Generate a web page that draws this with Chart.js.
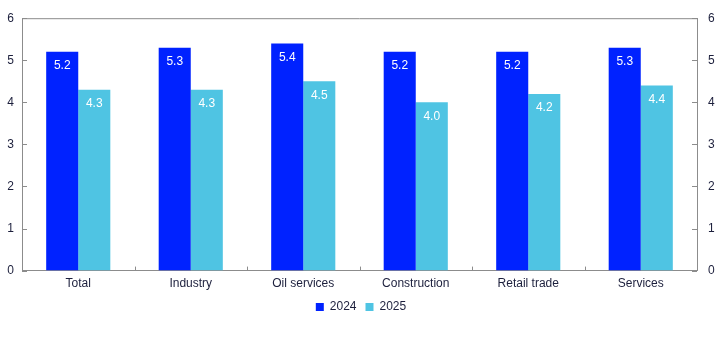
<!DOCTYPE html>
<html>
<head>
<meta charset="utf-8">
<script src="https://cdn.jsdelivr.net/npm/chart.js@4.4.1/dist/chart.umd.min.js"></script>
<style>
  html, body { margin: 0; padding: 0; background: #fff; }
  #wrap { width: 722px; height: 361px; }
</style>
</head>
<body>
<div id="wrap"><canvas id="grafica" width="722" height="361"></canvas></div>
<script>
const categorias = ['Total', 'Industry', 'Oil services', 'Construction', 'Retail trade', 'Services'];
const valores2024 = [5.2, 5.3, 5.4, 5.2, 5.2, 5.3];
const valores2025 = [4.3, 4.3, 4.5, 4.0, 4.2, 4.4];
const ticksY = [0, 1, 2, 3, 4, 5, 6];

const colorTexto = '#1c1f3c';
const colorEje = '#8c8c8c';

// etiquetas dentro de las barras y marcas de los ejes hacia dentro
const pluginExtras = {
    id: 'extras',
    afterDatasetsDraw(chart) {
        const ctx = chart.ctx;
        const area = chart.chartArea;
        ctx.save();
        ctx.font = '12px "Liberation Sans", Arial, sans-serif';
        ctx.fillStyle = '#ffffff';
        ctx.textAlign = 'center';
        ctx.textBaseline = 'middle';
        chart.data.datasets.forEach((ds, i) => {
            chart.getDatasetMeta(i).data.forEach((bar, j) => {
                ctx.fillText(ds.data[j].toFixed(1), bar.x, bar.y + 14);
            });
        });

        ctx.strokeStyle = colorEje;
        ctx.lineWidth = 1;
        ctx.beginPath();
        ctx.moveTo(area.left, area.top + 0.5);
        ctx.lineTo(area.right, area.top + 0.5);
        const y = chart.scales.y;
        ticksY.forEach(v => {
            const py = Math.round(y.getPixelForValue(v)) + 0.5;
            ctx.moveTo(area.left, py);
            ctx.lineTo(area.left + 5, py);
            ctx.moveTo(area.right, py);
            ctx.lineTo(area.right - 5, py);
        });
        const x = chart.scales.x;
        for (let k = 1; k < categorias.length; k++) {
            const px = Math.round((x.getPixelForValue(k - 1) + x.getPixelForValue(k)) / 2) + 0.5;
            ctx.moveTo(px, area.bottom);
            ctx.lineTo(px, area.bottom - 4);
        }
        ctx.stroke();
        ctx.restore();
    }
};

const fuente = { size: 12, family: '"Liberation Sans", Arial' };

const config = {
    type: 'bar',
    data: {
        labels: categorias,
        datasets: [
            { label: '2024', data: valores2024, backgroundColor: '#0022ff', yAxisID: 'y' },
            { label: '2025', data: valores2025, backgroundColor: '#4fc4e3', yAxisID: 'y' }
        ]
    },
    options: {
        responsive: false,
        animation: false,
        datasets: { bar: { barPercentage: 1, categoryPercentage: 0.57 } },
        layout: { padding: { left: 0, right: 0, top: 11, bottom: 38 } },
        scales: {
            x: {
                afterFit: s => { s.height -= 5; },
                grid: { display: false, drawTicks: false },
                border: { color: colorEje },
                ticks: { color: colorTexto, font: fuente, padding: 6 }
            },
            y: {
                position: 'left',
                min: 0, max: 6,
                afterFit: s => { s.width = 22; },
                grid: { display: false, drawTicks: false },
                border: { color: colorEje },
                ticks: { stepSize: 1, color: colorTexto, font: fuente, padding: 8 }
            },
            y2: {
                position: 'right',
                min: 0, max: 6,
                afterFit: s => { s.width = 25; },
                grid: { display: false, drawTicks: false },
                border: { color: colorEje },
                ticks: { stepSize: 1, color: colorTexto, font: fuente, padding: 11 }
            }
        },
        plugins: {
            legend: {
                position: 'bottom',
                labels: {
                    boxWidth: 8, boxHeight: 8, padding: 9,
                    color: colorTexto,
                    font: fuente
                }
            },
            tooltip: { enabled: false }
        }
    },
    plugins: [pluginExtras]
};

let myChart = new Chart(document.getElementById('grafica'), config);
</script>
</body>
</html>
